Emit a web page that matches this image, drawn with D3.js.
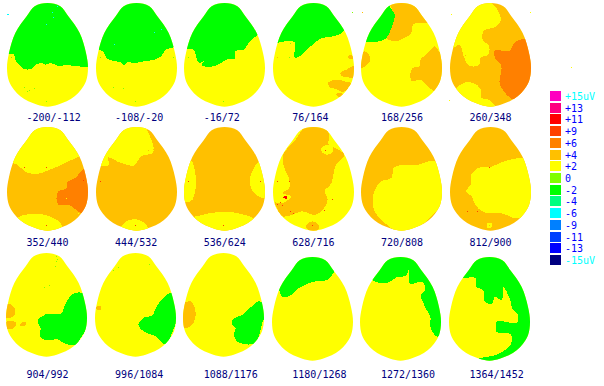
<!DOCTYPE html>
<html>
<head>
<meta charset="utf-8">
<script src="https://cdn.jsdelivr.net/npm/d3@7"></script>
<style>
  body { margin: 0; background: #fff; }
  text { font-family: "DejaVu Sans Mono", monospace; font-size: 10px; }
</style>
</head>
<body>
<div id="chart"></div>
<script>
// time windows, one per head map
var panelLabels = ["-200/-112", "-108/-20", "-16/72", "76/164", "168/256", "260/348",
                   "352/440", "444/532", "536/624", "628/716", "720/808", "812/900",
                   "904/992", "996/1084", "1088/1176", "1180/1268", "1272/1360", "1364/1452"];

// colour key, top to bottom
var levelLabels = ["+15uV", "+13", "+11", "+9", "+6", "+4", "+2", "0", "-2", "-4", "-6", "-9", "-11", "-13", "-15uV"];
var levelColors = ["#ff00c0", "#ff0080", "#ff0000", "#ff4000", "#ff8000", "#ffc000", "#ffff00", "#80ff00",
                   "#00ff00", "#00ff80", "#00ffff", "#0080ff", "#0040ff", "#0000ff", "#000080"];

// scalp outline in head units (243 wide, 312 tall)
var eggOutline = [[121.5,0],[160,10],[184,40],[218,90],[237,150],[243,195],[237,235],[222,260],[203,280],[179,295],[152,305],
  [121.5,311],[91,305],[64,295],[40,280],[21,260],[6,235],[0,195],[6,150],[25,90],[59,40],[83,10]];

// background level of each map
var panelBase = ["+2","+2","+2","+2","+2","+4","+4","+4","+4","+2","+4","+4","+2","+2","+2","+2","+2","+2"];

// contour regions of each map: [level, outline in head units], painted in order
var panelRegions = [
  [["-2",[[-5,152],[21,155],[27,175],[39,187],[49,197],[74,197],[84,187],[104,180],[114,185],[129,180],[144,185],[154,190],[169,187],[250,187],[260,100],[250,-10],[0,-10]]]],
  [["-2",[[-5,138],[5,138],[20,145],[35,168],[60,175],[75,178],[83,187],[95,178],[115,180],[145,175],[175,170],[195,160],[210,140],[225,135],[240,132],[250,132],[260,60],[250,-10],[0,-10]]]],
  [["-2",[[-5,138],[28,140],[38,165],[45,180],[63,173],[53,185],[88,190],[108,182],[133,168],[153,168],[153,145],[178,140],[198,115],[223,95],[250,80],[260,30],[250,-10],[0,-10]]]],
  [["-2",[[-5,118],[65,118],[68,165],[80,160],[100,140],[120,125],[140,108],[180,100],[210,87],[215,80],[250,60],[260,30],[250,-10],[0,-10]]],
   ["+4",[[202,210],[220,200],[250,187],[250,225],[220,222],[205,218]]],
   ["+4",[[165,240],[180,232],[200,230],[220,237],[235,240],[225,255],[210,268],[190,258],[170,252]]],
   ["+4",[[188,273],[210,273],[200,282]]],
   ["+4",[[225,160],[235,157],[242,165],[230,168]]]],
  [["+4",[[86,-5],[97,35],[91,75],[76,105],[116,112],[124,108],[151,90],[156,65],[198,60],[250,60],[260,0],[200,-10]]],
   ["-2",[[-5,118],[13,118],[76,105],[91,75],[101,35],[86,7],[86,-10],[0,-10]]],
   ["+4",[[241,150],[221,130],[201,150],[176,175],[176,190],[154,195],[154,235],[176,230],[201,250],[221,265],[250,230],[250,150]]],
   ["+4",[[0,155],[11,145],[26,160],[26,175],[0,195]]]],
  [["+2",[[120,-5],[145,25],[153,50],[140,70],[100,85],[100,115],[115,125],[115,155],[90,165],[88,185],[55,187],[45,170],[25,125],[10,135],[-5,90],[0,-5]]],
   ["+2",[[20,255],[40,240],[70,240],[90,255],[95,285],[115,290],[140,315],[30,315],[-5,280]]],
   ["+6",[[132,145],[180,142],[195,118],[228,108],[250,190],[235,250],[195,290],[150,245],[152,185],[135,165]]]],
  [["+2",[[-5,108],[19,108],[64,138],[84,141],[129,128],[164,113],[219,88],[250,80],[260,30],[250,-10],[0,-10]]],
   ["+2",[[29,273],[69,261],[119,265],[164,298],[150,315],[60,315],[20,280]]],
   ["+6",[[154,193],[179,183],[179,168],[204,153],[237,123],[250,153],[250,203],[224,258],[184,233],[154,233]]]],
  [["+2",[[15,118],[40,113],[35,93],[75,108],[115,115],[135,88],[170,78],[160,23],[145,-5],[0,-5],[-5,118]]],
   ["+2",[[75,303],[90,283],[120,277],[145,288],[158,308],[115,318]]]],
  [["+2",[[18,98],[35,183],[20,223],[-5,223],[-5,150]]],
   ["+2",[[222,105],[210,123],[197,158],[210,198],[250,215],[250,150]]],
   ["+2",[[25,273],[50,265],[80,258],[180,263],[215,278],[175,303],[110,318],[50,303]]]],
  [["+4",[[169,25],[167,53],[181,61],[214,83],[189,113],[169,178],[156,188],[164,218],[149,248],[129,263],[84,253],[54,265],[29,268],[9,238],[4,228],[29,228],[54,208],[29,198],[49,183],[49,158],[34,123],[29,88],[64,43],[104,-5],[154,-5]]],
   ["+2",[[144,65],[156,55],[179,58],[181,73],[164,83],[149,78]]],
   ["+4",[[99,298],[119,283],[139,298],[129,313],[109,313]]],
   ["+11",[[29,211],[41,206],[41,215]]]],
  [["+2",[[116,115],[161,115],[221,103],[250,150],[250,215],[216,263],[166,303],[116,318],[80,295],[61,278],[41,253],[36,208],[61,163],[91,153],[100,120]]]],
  [["+2",[[90,121],[118,121],[150,108],[210,93],[225,93],[250,183],[235,253],[210,273],[150,258],[100,255],[75,233],[65,208],[48,193],[62,173],[65,141]]],
   ["+2",[[112,288],[124,288],[124,302],[112,302]]]],
  [["-2",[[95,205],[117,185],[167,180],[177,155],[207,120],[232,120],[250,180],[240,230],[227,250],[210,275],[172,270],[152,258],[137,262],[102,252],[104,225]]],
   ["+4",[[-5,165],[7,152],[24,162],[27,185],[12,195],[-5,195]]],
   ["+4",[[-5,210],[30,210],[27,222],[-5,225]]],
   ["+4",[[42,215],[60,208],[60,215],[42,218]]]],
  [["-2",[[130,215],[145,195],[175,185],[180,170],[230,120],[250,170],[235,230],[210,275],[180,248],[155,240]]],
   ["+4",[[5,160],[18,160],[18,170],[5,170]]]],
  [["+4",[[-5,155],[23,145],[38,185],[23,220],[-5,225]]],
   ["-2",[[148,202],[178,185],[198,168],[228,145],[250,155],[238,210],[213,272],[158,260],[153,240],[158,225],[148,215]]]],
  [["-2",[[-5,97],[18,97],[32,121],[48,119],[80,94],[125,74],[165,69],[188,41],[190,-10],[0,-10]]]],
  [["-2",[[30,64],[55,77],[85,76],[110,61],[140,54],[145,39],[150,79],[190,76],[192,104],[185,109],[195,149],[212,184],[210,204],[232,239],[255,215],[255,-10],[30,-10]]]],
  [["-2",[[42,61],[80,64],[82,89],[102,99],[110,137],[130,139],[137,119],[157,129],[162,89],[182,124],[192,159],[207,174],[207,194],[142,196],[142,224],[187,234],[187,259],[152,289],[87,307],[150,325],[255,320],[255,-10],[42,-10]]]]
];

// single stray pixels of each map: [level, x, y] in head units
var panelSpecks = [
  [["-6",151,10],["-6",136,27],["-6",139,42],["-6",118,62],["-6",3,34],["-6",0,34],["0",51,252],["0",59,264],["0",67,261],["0",82,255],["0",118,294],["0",13,162]],
  [["0",12,162],["0",230,162],["0",52,252],["0",82,255],["0",118,293],["-6",173,87],["-6",195,77],["-6",55,122]],
  [["0",13,162],["0",118,294]],
  [["0",49,162],["+4",12,162],["0",52,120]],
  [["0",-27,28],["+4",3,28]],
  [["+2",3,34],["+2",-3,290],["+2",240,28],["+2",362,193],["+4",45,155]],
  [["+9",52,121],["+9",118,121],["+9",229,158],["+2",178,213],["+2",212,258],["+9",118,293]],
  [["+9",12,161],["+9",118,293],["+4",157,68],["+4",170,65]],
  [["+9",12,161],["+9",228,161],["+9",117,293]],
  [["+9",157,68],["+9",13,161],["+9",49,161],["+9",178,215],["+9",117,293],["+9",20,224],["+9",12,231],["+9",26,233],["+9",52,251],["+9",59,258],["+9",154,250],["+2",82,255]],
  [],
  [["+4",118,295],["+9",117,120],["+9",50,253],["+9",82,253]],
  [["0",150,8],["0",154,17],["0",150,25],["0",147,38],["0",130,95],["0",115,102]],
  [["0",55,52],["0",70,42],["0",163,33]],
  [],
  [],
  [],
  []
];

var width = 604,
    height = 386;

var colour = d3.scaleOrdinal(levelLabels.map(function(d) { return d.replace("uV", ""); }), levelColors);

// map placement on the page
var colX = d3.scalePoint().domain(d3.range(6)).range([7, 450]);
var rowY = d3.scaleOrdinal([0, 1, 2], [3, 127, 253]);
var labelY = d3.scaleOrdinal([0, 1, 2], [121, 246, 378]);

// head units to pixels inside one map
var x = d3.scaleLinear().domain([0, 243]).range([0, 81]);
var y = d3.scaleLinear().domain([0, 312]).range([0, 104]);

var egg = d3.line()
  .x(function(d) { return x(d[0]); })
  .y(function(d) { return y(d[1]); })
  .curve(d3.curveCatmullRomClosed.alpha(0.5));

var region = d3.line()
  .x(function(d) { return x(d[0]); })
  .y(function(d) { return y(d[1]); })
  .curve(d3.curveCatmullRomClosed.alpha(1));

var svg = d3.select("#chart")
  .append("svg")
    .attr("width", width)
    .attr("height", height)
    .style("display", "block");

svg.append("defs").append("clipPath")
    .attr("id", "scalp")
  .append("path")
    .attr("d", egg(eggOutline))
    .attr("shape-rendering", "crispEdges");

panelLabels.forEach(function(label, i) {
  var col = i % 6,
      row = Math.floor(i / 6),
      // the last row sits a bit off the grid
      dx = i >= 12 ? -1 : 0,
      dy = i >= 15 ? 4 : 0;

  var panel = svg.append("g")
    .attr("transform", "translate(" + Math.round(colX(col) + dx) + "," + (rowY(row) + dy) + ")");

  var map = panel.append("g")
    .attr("clip-path", "url(#scalp)");

  map.append("rect")
    .attr("x", x(-5))
    .attr("y", y(-5))
    .attr("width", x(260))
    .attr("height", y(330))
    .attr("fill", colour(panelBase[i]));

  map.selectAll("path")
    .data(panelRegions[i])
    .enter()
    .append("path")
    .attr("d", function(d) { return region(d[1]); })
    .attr("fill", function(d) { return colour(d[0]); })
    .attr("shape-rendering", "crispEdges");

  panel.selectAll("rect.speck")
    .data(panelSpecks[i])
    .enter()
    .append("rect")
    .attr("class", "speck")
    .attr("x", function(d) { return Math.round(x(d[1])); })
    .attr("y", function(d) { return Math.round(y(d[2])); })
    .attr("width", 1)
    .attr("height", 1)
    .attr("fill", function(d) { return colour(d[0]); });

  svg.append("text")
    .attr("x", 26.5 + colX(col) - colX(0))
    .attr("y", labelY(row))
    .attr("fill", "#000080")
    .text(label);
});

// colour key
var key = d3.scalePoint().domain(levelLabels).range([91, 255]);

svg.selectAll("rect.key")
  .data(levelLabels)
  .enter()
  .append("rect")
  .attr("class", "key")
  .attr("x", 550)
  .attr("y", function(d) { return Math.round(key(d)); })
  .attr("width", 11)
  .attr("height", 10)
  .attr("fill", function(d, i) { return levelColors[i]; });

svg.selectAll("text.key")
  .data(levelLabels)
  .enter()
  .append("text")
  .attr("class", "key")
  .attr("x", 565)
  .attr("y", function(d) { return Math.round(key(d)) + 5; })
  .attr("dy", "0.35em")
  .attr("fill", function(d) { return d.indexOf("uV") > 0 ? "#00ffff" : "#0000ff"; })
  .text(function(d) { return d; });
</script>
</body>
</html>
